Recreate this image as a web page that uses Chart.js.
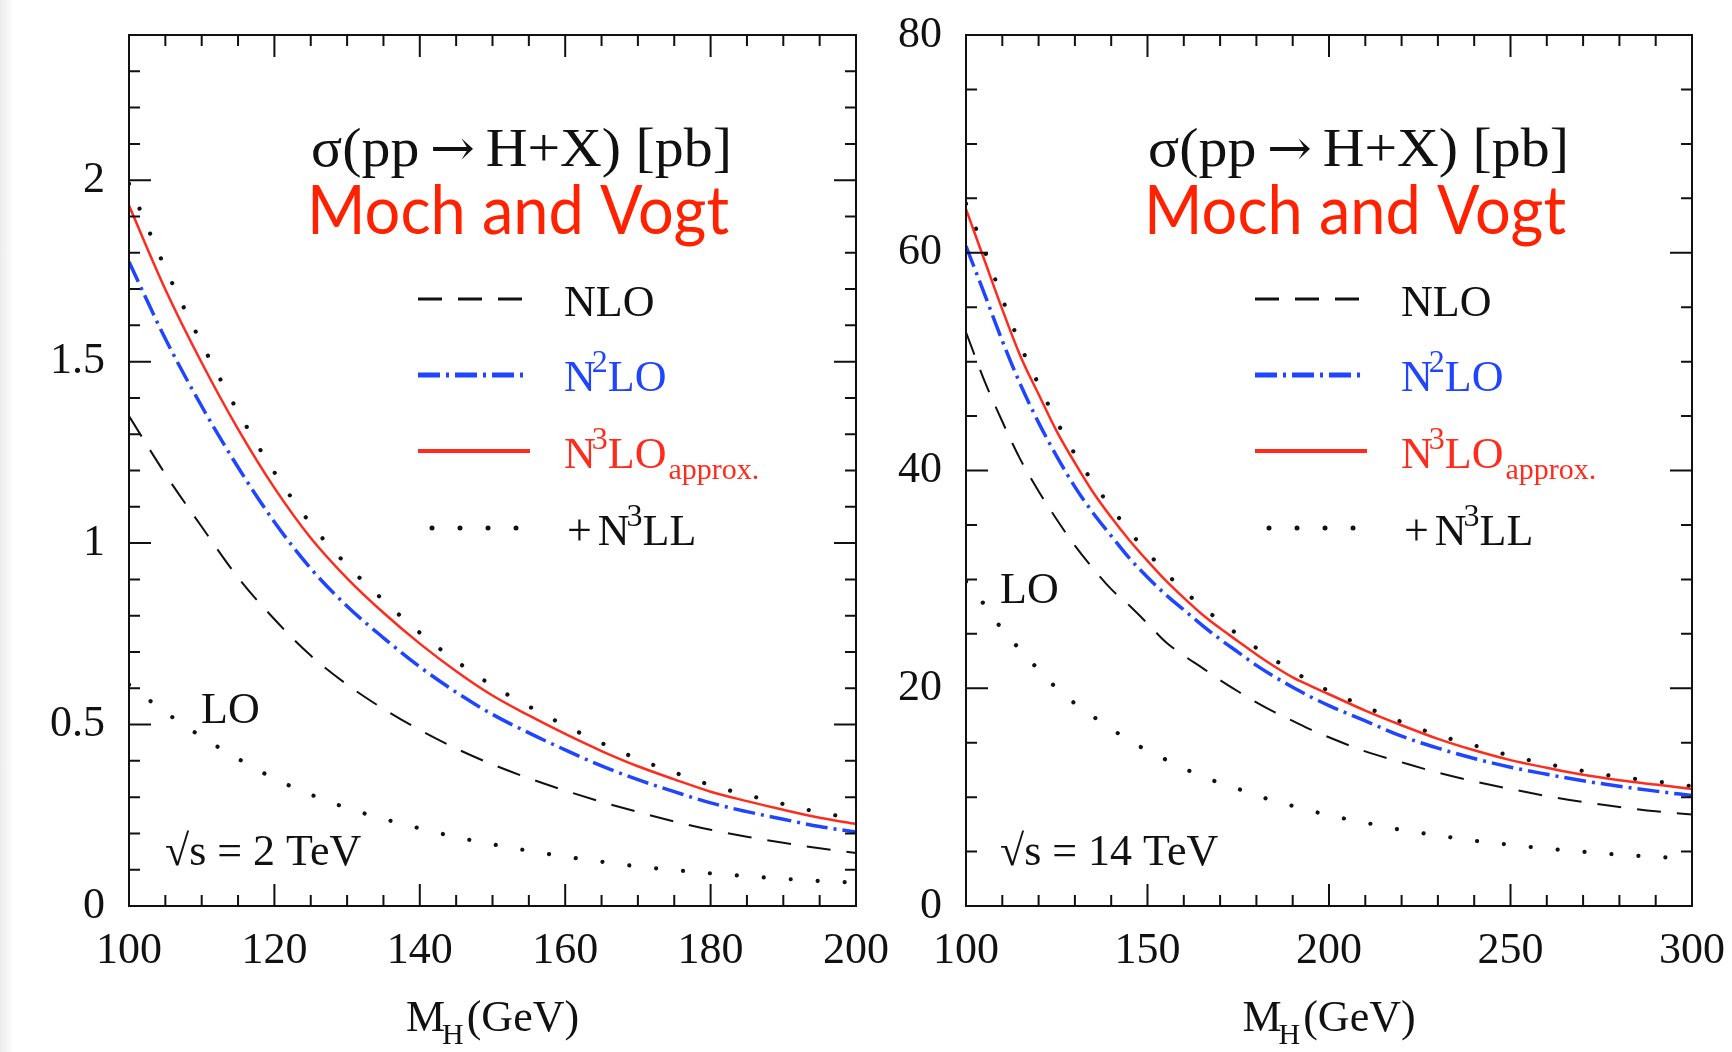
<!DOCTYPE html>
<html>
<head>
<meta charset="utf-8">
<script src="https://cdn.jsdelivr.net/npm/chart.js@4.4.1/dist/chart.umd.min.js"></script>
<style>
  html, body { margin: 0; padding: 0; background: #fff; }
  #wrap { position: relative; width: 1732px; height: 1052px; overflow: hidden;
          background: linear-gradient(to right, #ececec 0px, #fff 14px); }
  canvas { position: absolute; top: 0; }
  #low { left: 0; }
  #high { left: 880px; }
</style>
</head>
<body>
<div id="wrap">
  <canvas id="low" width="900" height="1052"></canvas>
  <canvas id="high" width="852" height="1052"></canvas>
</div>
<script>
// sqrt(s) = 2 TeV panel, sigma in pb vs M_H in GeV
const massLow = [100, 105, 110, 115, 120, 125, 130, 135, 140, 145, 150, 155, 160, 165, 170, 175, 180, 185, 190, 195, 200];
const loLow   = [0.61, 0.534, 0.466, 0.406, 0.351, 0.307, 0.27, 0.24, 0.214, 0.19, 0.17, 0.152, 0.136, 0.122, 0.109, 0.099, 0.09, 0.082, 0.075, 0.069, 0.064];
const nloLow  = [1.35, 1.19, 1.045, 0.905, 0.79, 0.69, 0.61, 0.543, 0.485, 0.434, 0.39, 0.352, 0.318, 0.287, 0.259, 0.233, 0.21, 0.191, 0.174, 0.159, 0.146];
const nnloLow = [1.775, 1.563, 1.377, 1.209, 1.058, 0.93, 0.826, 0.739, 0.659, 0.589, 0.528, 0.477, 0.43, 0.386, 0.348, 0.315, 0.284, 0.26, 0.239, 0.219, 0.204];
const n3loLow = [1.93, 1.699, 1.497, 1.314, 1.152, 1.014, 0.903, 0.808, 0.723, 0.647, 0.58, 0.525, 0.474, 0.427, 0.385, 0.349, 0.315, 0.289, 0.265, 0.243, 0.226];
const n3llLow = [1.99, 1.757, 1.55, 1.362, 1.195, 1.053, 0.939, 0.842, 0.753, 0.675, 0.607, 0.55, 0.497, 0.449, 0.405, 0.368, 0.333, 0.306, 0.281, 0.258, 0.24];

// sqrt(s) = 14 TeV panel
const massHigh = [100, 105, 110, 115, 120, 125, 130, 135, 140, 145, 150, 155, 160, 165, 170, 175, 180, 185, 190, 195, 200,
                  210, 220, 230, 240, 250, 260, 270, 280, 290, 300];
const loHigh   = [29.8, 27.7, 25.4, 23.5, 21.7, 20.0, 18.6, 17.4, 16.3, 15.15, 14.3, 13.45, 12.65, 11.9, 11.3, 10.75, 10.2, 9.6, 9.2, 8.75, 8.33,
                  7.65, 6.98, 6.48, 6.0, 5.62, 5.27, 4.99, 4.72, 4.52, 4.35];
const nloHigh  = [52.7, 48.3, 44.5, 41.0, 38.1, 35.5, 33.1, 31.0, 29.1, 27.6, 25.95, 24.25, 23.0, 21.9, 20.75, 19.7, 18.7, 17.8, 17.0, 16.2, 15.5,
                  14.2, 13.2, 12.25, 11.45, 10.75, 10.1, 9.55, 9.1, 8.7, 8.4];
const nnloHigh = [60.6, 56.3, 51.9, 47.9, 44.4, 41.3, 38.5, 36.1, 34.0, 31.95, 30.2, 28.6, 27.2, 25.8, 24.5, 23.3, 22.1, 21.05, 20.1, 19.2, 18.4,
                  17.0, 15.6, 14.5, 13.55, 12.75, 12.1, 11.5, 11.0, 10.55, 10.15];
const n3loHigh = [64.0, 59.4, 54.8, 50.5, 47.0, 43.6, 40.7, 38.0, 35.7, 33.6, 31.7, 29.9, 28.3, 26.8, 25.5, 24.3, 23.1, 22.0, 21.0, 20.2, 19.45,
                  17.95, 16.6, 15.35, 14.3, 13.4, 12.7, 12.05, 11.55, 11.15, 10.75];
const n3llHigh = [64.5, 60.3, 55.8, 51.5, 47.9, 44.5, 41.5, 38.9, 36.6, 34.4, 32.5, 30.6, 29.0, 27.45, 26.2, 24.9, 23.7, 22.6, 21.6, 20.6, 19.75,
                  18.3, 16.9, 15.7, 14.75, 13.8, 13.05, 12.4, 11.85, 11.45, 11.0];

const SERIF = '"Liberation Serif", "Times New Roman", serif';
const INK = '#111';
const RED = '#ff2b1c';
const BLUE = '#1f45ff';

const STY = {
  nlo:  { color: INK,  width: 2,   dash: [24, 16],       cap: 'butt' },
  nnlo: { color: BLUE, width: 3.5, dash: [22, 6, 3, 6],  cap: 'butt' },
  n3lo: { color: RED,  width: 2.5, dash: [],             cap: 'butt' },
  dots: { color: INK,  width: 4.2, dash: [0.01, 27],     cap: 'round' }
};

function series(mass, vals, s) {
  return {
    data: mass.map((m, i) => ({ x: m, y: vals[i] })),
    borderColor: s.color,
    borderWidth: s.width,
    borderDash: s.dash,
    borderCapStyle: s.cap,
    cubicInterpolationMode: 'monotone',
    pointRadius: 0,
    fill: false
  };
}

// draw a list of text runs; returns total width
function rich(ctx, x, y, parts, color, measureOnly) {
  let cx = x;
  parts.forEach(p => {
    cx += p.pre || 0;
    ctx.font = `${p.size || 44}px ${p.family || SERIF}`;
    ctx.fillStyle = p.color || color;
    if (!measureOnly) ctx.fillText(p.t, cx, y + (p.dy || 0));
    cx += ctx.measureText(p.t).width;
  });
  return cx - x;
}

// same, squeezed horizontally to a given width
function richFit(ctx, x, y, parts, color, width) {
  const w = rich(ctx, 0, 0, parts, color, true);
  ctx.save();
  ctx.translate(x, y);
  ctx.scale(width / w, 1);
  rich(ctx, 0, 0, parts, color);
  ctx.restore();
}

function sample(ctx, x0, x1, y, s, w) {
  ctx.save();
  ctx.strokeStyle = s.color;
  ctx.lineWidth = w;
  ctx.lineCap = s.cap;
  ctx.setLineDash(s.dash);
  ctx.beginPath();
  ctx.moveTo(x0, y);
  ctx.lineTo(x1, y);
  ctx.stroke();
  ctx.restore();
}

// frame with inward ticks on all four sides
const frameTicks = {
  id: 'frameTicks',
  afterDraw(chart, args, o) {
    const { ctx, chartArea: a, scales: { x, y } } = chart;
    const major = (v, step) => Math.abs(v / step - Math.round(v / step)) < 1e-6;
    ctx.save();
    ctx.strokeStyle = INK;
    ctx.lineWidth = 2;
    ctx.strokeRect(a.left, a.top, a.right - a.left, a.bottom - a.top);
    ctx.beginPath();
    for (let i = 1; ; i++) {
      const v = x.min + i * o.xMinor;
      if (v >= x.max - 1e-9) break;
      const px = x.getPixelForValue(v);
      const len = major(v, o.xMajor) ? 22 : 11;
      ctx.moveTo(px, a.bottom); ctx.lineTo(px, a.bottom - len);
      ctx.moveTo(px, a.top); ctx.lineTo(px, a.top + len);
    }
    for (let i = 1; ; i++) {
      const v = y.min + i * o.yMinor;
      if (v >= y.max - 1e-9) break;
      const py = y.getPixelForValue(v);
      const len = major(v, o.yMajor) ? 22 : 11;
      ctx.moveTo(a.left, py); ctx.lineTo(a.left + len, py);
      ctx.moveTo(a.right, py); ctx.lineTo(a.right - len, py);
    }
    ctx.stroke();
    ctx.restore();
  }
};

// title, legend and labels inside the frame
const notes = {
  id: 'notes',
  afterDraw(chart, args, o) {
    const { ctx, chartArea: a } = chart;
    const L = a.left;
    ctx.save();
    ctx.textBaseline = 'alphabetic';
    ctx.textAlign = 'left';

    richFit(ctx, L + 182, 166, [
      { t: 'σ(pp', size: 54 },
      { t: '→', size: 50, family: '"DejaVu Serif", serif', pre: 10, dy: -1 },
      { t: 'H+X) [pb]', size: 54, pre: 10 }
    ], INK, 421);
    ctx.font = '67px Lato, "Open Sans", sans-serif';
    const mw = ctx.measureText('Moch and Vogt').width;
    ctx.save();
    ctx.translate(L + 178, 234);
    ctx.scale(422 / mw, 1);
    ctx.fillStyle = '#ff2200';
    ctx.fillText('Moch and Vogt', 0, 0);
    ctx.restore();

    sample(ctx, L + 289, L + 396, 299, STY.nlo, 3);
    sample(ctx, L + 289, L + 396, 375, STY.nnlo, 5);
    sample(ctx, L + 289, L + 401, 451, STY.n3lo, 4);
    sample(ctx, L + 303, L + 390, 528, { color: INK, dash: [0.01, 28], cap: 'round' }, 5);

    const tx = L + 435;
    rich(ctx, tx, 316, [{ t: 'NLO' }], INK);
    rich(ctx, tx, 391, [{ t: 'N' }, { t: '2', size: 32, dy: -19, pre: -4 }, { t: 'LO', pre: 0 }], BLUE);
    rich(ctx, tx, 468, [{ t: 'N' }, { t: '3', size: 32, dy: -19, pre: -4 }, { t: 'LO', pre: 0 },
                        { t: 'approx.', size: 30, dy: 11, pre: 2 }], RED);
    rich(ctx, tx + 3, 545, [{ t: '+' }, { t: 'N', pre: 6 }, { t: '3', size: 32, dy: -19, pre: -3 }, { t: 'LL', pre: 0 }], INK);

    rich(ctx, L + o.loX, o.loY, [{ t: 'LO' }], INK);
    rich(ctx, L + o.eX, 865, [{ t: '√s = ' + o.energy }], INK);

    // axis title M_H(GeV), centred under the frame
    const parts = [{ t: 'M' }, { t: 'H', size: 30, dy: 13, pre: -3 }, { t: '(GeV)', pre: 3 }];
    const w = rich(ctx, 0, 0, parts, INK, true);
    rich(ctx, (a.left + a.right) / 2 - w / 2, 1031, parts, INK);
    ctx.restore();
  }
};

function makeChart(id, mass, sets, ax, note) {
  const tickFont = { family: SERIF, size: 44 };
  return new Chart(document.getElementById(id), {
    type: 'line',
    data: {
      datasets: [
        series(mass, sets.n3lo, STY.n3lo),
        series(mass, sets.nnlo, STY.nnlo),
        series(mass, sets.nlo, STY.nlo),
        series(mass, sets.n3ll, STY.dots),
        series(mass, sets.lo, STY.dots)
      ]
    },
    options: {
      responsive: false,
      animation: false,
      layout: { padding: { top: 35, right: ax.padRight, left: 0, bottom: 0 } },
      plugins: {
        legend: { display: false },
        tooltip: { enabled: false },
        frameTicks: { xMinor: ax.xMinor, xMajor: ax.xStep, yMinor: ax.yMinor, yMajor: ax.yStep },
        notes: note
      },
      scales: {
        x: {
          type: 'linear', min: ax.xMin, max: ax.xMax,
          grid: { display: false, drawTicks: false },
          border: { display: false },
          ticks: { stepSize: ax.xStep, font: tickFont, color: INK, padding: 19, maxRotation: 0,
                   autoSkip: false, includeBounds: false },
          afterFit: s => { s.height = 146; s.paddingLeft = 0; s.paddingRight = 0; }
        },
        y: {
          type: 'linear', min: 0, max: ax.yMax,
          grid: { display: false, drawTicks: false },
          border: { display: false },
          ticks: { stepSize: ax.yStep, font: tickFont, color: INK, padding: 24, autoSkip: false,
                   includeBounds: false, callback: v => String(v) },
          afterFit: s => { s.width = ax.yWidth; s.paddingTop = 0; s.paddingBottom = 0; }
        }
      }
    },
    plugins: [frameTicks, notes]
  });
}

makeChart('low', massLow,
  { lo: loLow, nlo: nloLow, nnlo: nnloLow, n3lo: n3loLow, n3ll: n3llLow },
  { xMin: 100, xMax: 200, xStep: 20, xMinor: 5, yMax: 2.4, yStep: 0.5, yMinor: 0.1, yWidth: 129, padRight: 44 },
  { energy: '2 TeV', loX: 72, loY: 723, eX: 36 });

makeChart('high', massHigh,
  { lo: loHigh, nlo: nloHigh, nnlo: nnloHigh, n3lo: n3loHigh, n3ll: n3llHigh },
  { xMin: 100, xMax: 300, xStep: 50, xMinor: 10, yMax: 80, yStep: 20, yMinor: 5, yWidth: 86, padRight: 40 },
  { energy: '14 TeV', loX: 34, loY: 603, eX: 34 });
</script>
</body>
</html>
